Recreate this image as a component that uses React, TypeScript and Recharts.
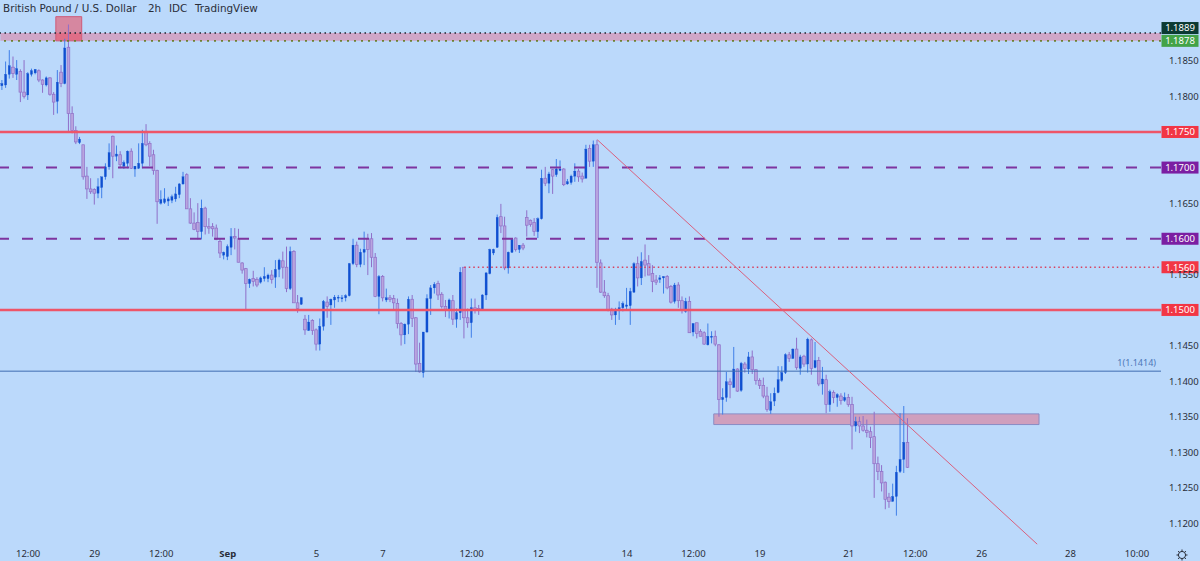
import React from "react";
import { ComposedChart, Bar, XAxis, YAxis, ReferenceLine, ReferenceArea } from "recharts";

// Prices are in pips (price x 10000), 2h bars.
const opens = [
  11815,11816,11831,11841,11831,11835,11806,11802,11831,11833,
  11836,11823,11816,11826,11803,11793,11834,11818,11869,11776,
  11752,11735,11732,11688,11670,11669,11664,11672,11687,11701,
  11744,11716,11718,11702,11706,11723,11698,11699,11706,11751,
  11734,11718,11696,11650,11651,11653,11654,11656,11662,11677,
  11690,11642,11622,11623,11610,11643,11617,11617,11615,11596,
  11577,11575,11588,11603,11600,11566,11558,11537,11544,11543,
  11539,11544,11544,11549,11546,11557,11569,11560,11530,11582,
  11510,11508,11487,11471,11485,11472,11452,11477,11511,11507,
  11514,11517,11516,11517,11520,11565,11591,11564,11581,11600,
  11600,11574,11519,11547,11514,11517,11516,11509,11481,11465,
  11480,11515,11489,11425,11412,11469,11516,11531,11537,11522,
  11505,11500,11513,11487,11496,11560,11489,11482,11503,11502,
  11500,11521,11551,11580,11588,11631,11618,11559,11581,11601,
  11585,11591,11630,11626,11623,11610,11628,11685,11678,11697,
  11690,11696,11698,11677,11679,11688,11695,11688,11685,11727,
  11709,11732,11566,11525,11520,11501,11493,11500,11503,11505,
  11506,11525,11565,11545,11570,11565,11551,11542,11543,11545,
  11547,11533,11512,11535,11513,11498,11512,11469,11482,11470,
  11468,11451,11462,11463,11451,11374,11377,11399,11391,11417,
  11387,11424,11417,11434,11416,11401,11394,11379,11359,11372,
  11384,11401,11412,11437,11432,11445,11418,11435,11424,11458,
  11419,11429,11396,11402,11367,11384,11377,11379,11373,11377,
  11367,11337,11343,11337,11331,11329,11322,11284,11273,11258,
  11237,11231,11238,11273,11290,11314,
];
const highs = [
  11823,11849,11865,11856,11851,11838,11851,11834,11839,11838,
  11838,11824,11828,11827,11806,11837,11844,11881,11901,11786,
  11758,11743,11732,11701,11685,11671,11685,11687,11706,11734,
  11745,11731,11723,11710,11724,11727,11702,11734,11753,11761,
  11737,11725,11697,11668,11671,11659,11662,11673,11678,11694,
  11692,11657,11637,11650,11655,11645,11629,11622,11620,11601,
  11582,11592,11615,11615,11614,11567,11559,11544,11555,11546,
  11547,11560,11551,11556,11570,11572,11582,11589,11589,11584,
  11521,11518,11493,11493,11487,11474,11488,11514,11519,11516,
  11521,11521,11521,11522,11566,11600,11596,11586,11610,11607,
  11608,11580,11549,11549,11530,11521,11521,11516,11483,11481,
  11519,11521,11490,11454,11469,11522,11535,11539,11541,11525,
  11514,11516,11521,11502,11560,11560,11502,11516,11516,11507,
  11522,11553,11586,11586,11634,11649,11631,11582,11601,11602,
  11591,11594,11640,11627,11629,11630,11697,11701,11694,11698,
  11712,11710,11699,11684,11690,11706,11698,11693,11732,11732,
  11738,11739,11571,11542,11524,11503,11503,11512,11512,11531,
  11531,11567,11575,11581,11592,11577,11563,11549,11549,11547,
  11549,11535,11538,11539,11519,11517,11519,11481,11482,11473,
  11470,11481,11470,11471,11452,11390,11413,11404,11448,11418,
  11427,11427,11441,11443,11417,11404,11405,11392,11383,11391,
  11421,11421,11439,11441,11446,11461,11437,11437,11461,11460,
  11455,11434,11420,11409,11388,11387,11383,11383,11384,11382,
  11378,11350,11350,11351,11346,11336,11357,11294,11282,11259,
  11243,11256,11281,11355,11365,11348,
];
const lows = [
  11809,11812,11825,11826,11823,11792,11797,11795,11828,11831,
  11820,11805,11814,11801,11774,11776,11813,11817,11750,11748,
  11733,11733,11683,11656,11663,11648,11657,11657,11683,11697,
  11685,11709,11699,11698,11699,11698,11687,11698,11699,11730,
  11702,11690,11621,11648,11649,11646,11650,11652,11657,11676,
  11642,11621,11612,11599,11599,11606,11607,11603,11598,11573,
  11571,11570,11577,11585,11567,11551,11501,11531,11533,11532,
  11537,11540,11539,11537,11531,11546,11544,11525,11528,11510,
  11496,11507,11465,11471,11465,11443,11443,11471,11489,11479,
  11503,11511,11511,11512,11519,11563,11560,11560,11563,11549,
  11560,11518,11494,11512,11511,11511,11501,11474,11450,11452,
  11466,11476,11413,11412,11405,11468,11493,11523,11514,11502,
  11490,11488,11479,11475,11486,11460,11475,11461,11495,11493,
  11499,11514,11550,11577,11587,11608,11556,11551,11580,11582,
  11580,11584,11603,11617,11604,11601,11627,11674,11664,11663,
  11687,11695,11674,11676,11676,11680,11680,11679,11685,11701,
  11701,11531,11524,11517,11498,11486,11479,11486,11498,11500,
  11479,11524,11533,11535,11547,11549,11525,11535,11538,11523,
  11529,11509,11509,11503,11495,11496,11468,11463,11460,11463,
  11451,11450,11453,11449,11350,11353,11371,11376,11391,11385,
  11385,11412,11410,11410,11395,11389,11376,11357,11354,11365,
  11383,11399,11410,11427,11431,11416,11409,11420,11412,11409,
  11418,11393,11381,11355,11357,11369,11364,11367,11371,11364,
  11304,11329,11327,11329,11321,11306,11236,11261,11245,11220,
  11222,11231,11211,11271,11271,11278,
];
const closes = [
  11818,11831,11843,11832,11839,11806,11800,11832,11836,11838,
  11823,11817,11826,11803,11792,11820,11818,11868,11776,11752,
  11736,11740,11687,11670,11666,11664,11673,11687,11701,11721,
  11716,11719,11704,11707,11723,11699,11702,11706,11734,11732,
  11716,11696,11652,11655,11656,11656,11659,11663,11677,11687,
  11642,11622,11613,11610,11643,11617,11615,11614,11599,11580,
  11581,11589,11603,11601,11567,11556,11537,11543,11540,11535,
  11545,11547,11549,11543,11557,11570,11560,11530,11582,11510,
  11502,11517,11472,11483,11471,11452,11477,11512,11505,11515,
  11518,11518,11517,11520,11565,11591,11564,11581,11585,11585,
  11574,11519,11547,11517,11517,11515,11510,11481,11465,11480,
  11515,11488,11424,11413,11469,11516,11531,11536,11521,11505,
  11501,11514,11487,11496,11553,11489,11482,11503,11500,11500,
  11521,11552,11585,11585,11630,11618,11559,11581,11599,11585,
  11591,11587,11619,11620,11610,11628,11685,11678,11691,11688,
  11698,11698,11676,11680,11688,11695,11687,11684,11726,11709,
  11732,11567,11525,11520,11500,11493,11500,11503,11509,11507,
  11526,11565,11545,11568,11563,11549,11540,11539,11545,11547,
  11531,11511,11535,11513,11500,11512,11468,11481,11467,11463,
  11452,11463,11463,11452,11374,11377,11399,11395,11417,11386,
  11425,11418,11434,11416,11401,11394,11379,11360,11371,11383,
  11402,11412,11437,11432,11445,11419,11434,11424,11459,11418,
  11429,11396,11403,11367,11385,11377,11381,11373,11377,11367,
  11337,11343,11337,11331,11328,11321,11284,11273,11257,11234,
  11231,11238,11272,11290,11314,11279,
];

const TOTAL_SLOTS = 314;
const tickSlots = [7, 25, 43, 61, 85, 103, 127, 145, 169, 187, 205, 229, 247, 265, 289, 307];
const tickLabels = ["12:00", "29", "12:00", "Sep", "5", "7", "12:00", "12", "14", "12:00", "19", "21", "12:00", "26", "28", "10:00"];
const priceTicks = [1.12, 1.125, 1.13, 1.135, 1.14, 1.145, 1.155, 1.165, 1.18, 1.185];
const titleParts = ["British Pound / U.S. Dollar", "2h", "IDC", "TradingView"];
const titleLefts = [3, 148, 169, 195];

const UP_BODY = "#0F4FD0";
const UP_WICK = "#3F7FE8";
const DOWN_BODY = "#B8A4DE";
const DOWN_EDGE = "#8F6FC8";
const BG = "#BBD9FB";
const FONT = "'Noto Sans', sans-serif";

const rows = Array.from({ length: TOTAL_SLOTS }, (_, i) =>
  i < opens.length
    ? {
        i,
        range: [lows[i] / 10000, highs[i] / 10000],
        open: opens[i] / 10000,
        close: closes[i] / 10000,
        high: highs[i] / 10000,
        low: lows[i] / 10000,
      }
    : { i }
);

function Candle(props: any) {
  const { x, y, width, height, payload } = props;
  if (payload == null || payload.range == null) return null;
  const k = height / (payload.high - payload.low || 1);
  const yo = y + (payload.high - payload.open) * k;
  const yc = y + (payload.high - payload.close) * k;
  const top = Math.min(yo, yc);
  const h = Math.max(Math.abs(yo - yc), 1);
  const up = payload.close >= payload.open;
  const cx = x + width / 2;
  const w = up ? width - 0.9 : width - 0.3;
  return (
    <g>
      <line x1={cx} x2={cx} y1={y} y2={y + height} stroke={up ? UP_WICK : DOWN_EDGE} strokeWidth={1} />
      <rect
        x={cx - w / 2}
        y={top}
        width={w}
        height={h}
        fill={up ? UP_BODY : DOWN_BODY}
        stroke={up ? UP_BODY : DOWN_EDGE}
        strokeWidth={up ? 0.3 : 0.7}
      />
    </g>
  );
}

function Tag({ viewBox, text, fill, shift = 0 }: any) {
  if (!viewBox) return null;
  const cy = viewBox.y + shift;
  return (
    <g>
      <rect x={1161.5} y={cy - 6} width={37} height={12} fill={fill} />
      <text x={1180} y={cy + 3.3} textAnchor="middle" fontSize={9.5} fontFamily={FONT} fill="#FFFFFF">
        {text}
      </text>
    </g>
  );
}

function FibText({ viewBox }: any) {
  if (!viewBox) return null;
  return (
    <text x={1156} y={viewBox.y - 5} textAnchor="end" fontSize={9} fontFamily={FONT} fill="#4C76B8">
      1(1.1414)
    </text>
  );
}

function TimeTick({ x, y, payload }: any) {
  const label = tickLabels[tickSlots.indexOf(payload.value)];
  return (
    <text
      x={x}
      y={y + 3.5}
      textAnchor="middle"
      fontSize={9.5}
      fontFamily={FONT}
      fontWeight={label === "Sep" ? 700 : 400}
      fill="#2A2E39"
    >
      {label}
    </text>
  );
}

export default function App() {
  return (
    <div style={{ position: "absolute", left: 0, top: 0, width: 1200, height: 561, background: BG, overflow: "hidden" }}>
      <ComposedChart width={1200} height={561} data={rows} margin={{ top: 0, right: 0, bottom: 0, left: 0 }} barCategoryGap={0}>
        <XAxis
          dataKey="i"
          type="category"
          ticks={tickSlots}
          interval={0}
          height={16}
          axisLine={false}
          tickLine={false}
          padding={{ left: 0.4, right: 0 }}
          tick={<TimeTick />}
        />
        <YAxis
          orientation="right"
          width={39}
          type="number"
          domain={[1.11698, 1.19354]}
          allowDataOverflow
          ticks={priceTicks}
          interval={0}
          axisLine={false}
          tickLine={false}
          tickSize={0}
          tickMargin={8}
          tick={{ fontSize: 9.5, fill: "#2A2E39", fontFamily: FONT }}
          tickFormatter={(v: number) => v.toFixed(4)}
        />
        <ReferenceArea y1={1.1878} y2={1.1889} fill="#CFA6C8" fillOpacity={1} stroke="none" />
        <Bar dataKey="range" barSize={3} shape={<Candle />} isAnimationActive={false} />
        <ReferenceArea x1={15} x2={21} y1={1.1878} y2={1.1912} fill="#F23645" fillOpacity={0.5} stroke="#CE5B78" strokeWidth={1} />
        <ReferenceArea x1={193} x2={280} y1={1.1339} y2={1.1354} fill="#E0708A" fillOpacity={0.55} stroke="#8A8CC4" strokeWidth={1} />
        <ReferenceLine y={1.1889} stroke="#1A2230" strokeWidth={1.5} strokeDasharray="1.5 3.5" label={<Tag text="1.1889" fill="#0B3A32" shift={-5} />} />
        <ReferenceLine y={1.1878} stroke="#6F8030" strokeWidth={1.6} strokeDasharray="2 5" label={<Tag text="1.1878" fill="#43A348" />} />
        <ReferenceLine y={1.175} stroke="#EE5568" strokeWidth={2.4} label={<Tag text="1.1750" fill="#F23645" />} />
        <ReferenceLine y={1.17} stroke="#7E359F" strokeWidth={2} strokeDasharray="11 13" label={<Tag text="1.1700" fill="#7B1FA2" />} />
        <ReferenceLine y={1.16} stroke="#7E359F" strokeWidth={2} strokeDasharray="11 13" label={<Tag text="1.1600" fill="#7B1FA2" />} />
        <ReferenceLine
          segment={[{ x: 125, y: 1.156 }, { x: 313, y: 1.156 }]}
          stroke="#D8405F"
          strokeWidth={1.5}
          strokeDasharray="1.5 3"
          label={<Tag text="1.1560" fill="#F23645" />}
        />
        <ReferenceLine y={1.15} stroke="#EE5568" strokeWidth={2.4} label={<Tag text="1.1500" fill="#F23645" />} />
        <ReferenceLine y={1.1414} stroke="#3F6CB0" strokeWidth={1} label={<FibText />} />
        <ReferenceLine segment={[{ x: 161, y: 1.1739 }, { x: 280, y: 1.1171 }]} stroke="#D9607E" strokeWidth={1} />
      </ComposedChart>
      {titleParts.map((part, n) => (
        <div
          key={part}
          style={{
            position: "absolute",
            left: titleLefts[n],
            top: 0,
            fontFamily: "'DejaVu Sans', sans-serif",
            fontSize: 10.4,
            color: "#2A2E39",
            whiteSpace: "pre",
            lineHeight: "16px",
          }}
        >
          {part}
        </div>
      ))}
      <svg style={{ position: "absolute", left: 1175, top: 548 }} width={14} height={14}>
        <circle cx={7} cy={7} r={3.6} fill="none" stroke="#2A2E39" strokeWidth={1} />
        <path d="M7 1.5V3.4M7 10.6V12.5M1.5 7H3.4M10.6 7H12.5M3.1 3.1L4.4 4.4M9.6 9.6L10.9 10.9M3.1 10.9L4.4 9.6M9.6 4.4L10.9 3.1" stroke="#2A2E39" strokeWidth={1} />
      </svg>
    </div>
  );
}
